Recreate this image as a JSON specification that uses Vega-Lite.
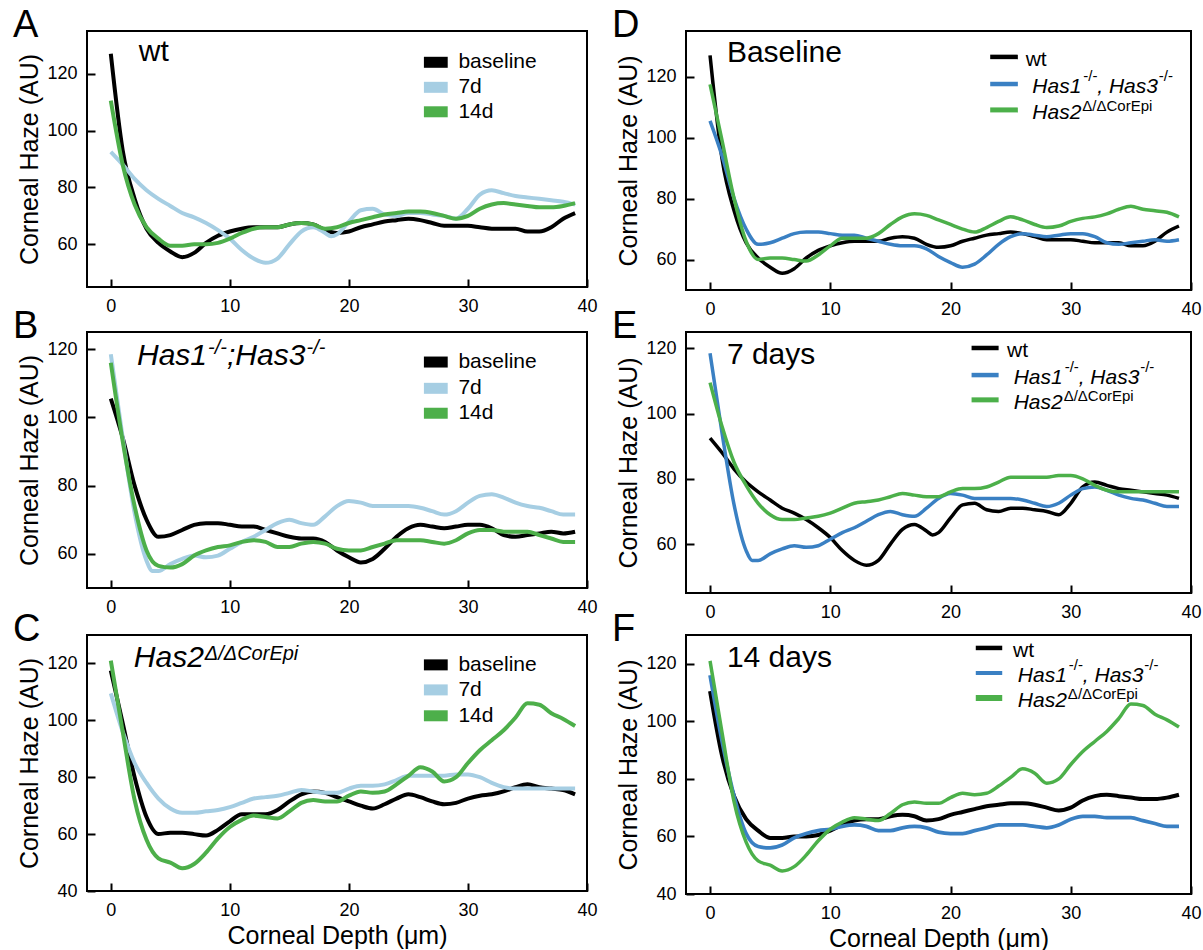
{
"$schema": "https://vega.github.io/schema/vega-lite/v6.json",
"padding": {"left": 12, "top": 6, "right": 2, "bottom": 2},
"background": "white",
"config": {
 "view": {"stroke": "#000", "strokeWidth": 2},
 "axis": {"domain": false, "grid": false, "tickSize": -8, "tickWidth": 2, "tickColor": "#000", "labelFont": "Liberation Sans", "labelFontSize": 18, "labelColor": "#000", "labelPadding": 18, "labelFlush": false, "labelOverlap": false, "titleFont": "Liberation Sans", "titleFontSize": 25, "titleFontWeight": "normal", "titleColor": "#000", "titlePadding": 4},
 "title": {"font": "Liberation Sans", "fontSize": 38, "fontWeight": "normal", "anchor": "start", "frame": "group", "dx": -74, "offset": -14, "baseline": "alphabetic", "color": "#000"},
 "style": {
  "ttl": {"font": "Liberation Sans", "fontSize": 30, "align": "left", "baseline": "alphabetic"},
  "ttli": {"font": "Liberation Sans", "fontSize": 30, "fontStyle": "italic", "align": "left", "baseline": "alphabetic"},
  "ttls": {"font": "Liberation Sans", "fontSize": 20, "fontStyle": "italic", "align": "left", "baseline": "alphabetic"},
  "lga": {"font": "Liberation Sans", "fontSize": 21, "align": "left", "baseline": "middle"},
  "lgr": {"font": "Liberation Sans", "fontSize": 21, "align": "left", "baseline": "alphabetic"},
  "lgi": {"font": "Liberation Sans", "fontSize": 21, "fontStyle": "italic", "align": "left", "baseline": "alphabetic"},
  "lgs": {"font": "Liberation Sans", "fontSize": 15, "align": "left", "baseline": "alphabetic"}
 }
},
"datasets": {"haze": [
{"geno":"wt","time":"baseline","depth":0,"haze":127},{"geno":"wt","time":"baseline","depth":1,"haze":93},{"geno":"wt","time":"baseline","depth":2,"haze":76},{"geno":"wt","time":"baseline","depth":3,"haze":65.5},{"geno":"wt","time":"baseline","depth":4,"haze":60.5},{"geno":"wt","time":"baseline","depth":5,"haze":57.5},{"geno":"wt","time":"baseline","depth":6,"haze":55.5},{"geno":"wt","time":"baseline","depth":7,"haze":57},{"geno":"wt","time":"baseline","depth":8,"haze":60.5},{"geno":"wt","time":"baseline","depth":9,"haze":63},{"geno":"wt","time":"baseline","depth":10,"haze":64.5},{"geno":"wt","time":"baseline","depth":11,"haze":65.5},{"geno":"wt","time":"baseline","depth":12,"haze":66},{"geno":"wt","time":"baseline","depth":13,"haze":66},{"geno":"wt","time":"baseline","depth":14,"haze":66},{"geno":"wt","time":"baseline","depth":15,"haze":67},{"geno":"wt","time":"baseline","depth":16,"haze":67.5},{"geno":"wt","time":"baseline","depth":17,"haze":67},{"geno":"wt","time":"baseline","depth":18,"haze":65},{"geno":"wt","time":"baseline","depth":19,"haze":64},{"geno":"wt","time":"baseline","depth":20,"haze":64.5},{"geno":"wt","time":"baseline","depth":21,"haze":66},{"geno":"wt","time":"baseline","depth":22,"haze":67},{"geno":"wt","time":"baseline","depth":23,"haze":68},{"geno":"wt","time":"baseline","depth":24,"haze":68.5},{"geno":"wt","time":"baseline","depth":25,"haze":69},{"geno":"wt","time":"baseline","depth":26,"haze":68.5},{"geno":"wt","time":"baseline","depth":27,"haze":67.5},{"geno":"wt","time":"baseline","depth":28,"haze":66.5},{"geno":"wt","time":"baseline","depth":29,"haze":66.5},{"geno":"wt","time":"baseline","depth":30,"haze":66.5},{"geno":"wt","time":"baseline","depth":31,"haze":66},{"geno":"wt","time":"baseline","depth":32,"haze":65.5},{"geno":"wt","time":"baseline","depth":33,"haze":65.5},{"geno":"wt","time":"baseline","depth":34,"haze":65.5},{"geno":"wt","time":"baseline","depth":35,"haze":64.5},{"geno":"wt","time":"baseline","depth":36,"haze":64.5},{"geno":"wt","time":"baseline","depth":37,"haze":66},{"geno":"wt","time":"baseline","depth":38,"haze":69},{"geno":"wt","time":"baseline","depth":39,"haze":71},
{"geno":"wt","time":"7d","depth":0,"haze":92.5},{"geno":"wt","time":"7d","depth":1,"haze":88},{"geno":"wt","time":"7d","depth":2,"haze":83},{"geno":"wt","time":"7d","depth":3,"haze":79},{"geno":"wt","time":"7d","depth":4,"haze":76},{"geno":"wt","time":"7d","depth":5,"haze":73.5},{"geno":"wt","time":"7d","depth":6,"haze":71},{"geno":"wt","time":"7d","depth":7,"haze":69.5},{"geno":"wt","time":"7d","depth":8,"haze":67.5},{"geno":"wt","time":"7d","depth":9,"haze":65},{"geno":"wt","time":"7d","depth":10,"haze":62},{"geno":"wt","time":"7d","depth":11,"haze":58},{"geno":"wt","time":"7d","depth":12,"haze":55},{"geno":"wt","time":"7d","depth":13,"haze":53.5},{"geno":"wt","time":"7d","depth":14,"haze":55},{"geno":"wt","time":"7d","depth":15,"haze":60},{"geno":"wt","time":"7d","depth":16,"haze":64.5},{"geno":"wt","time":"7d","depth":17,"haze":66},{"geno":"wt","time":"7d","depth":18,"haze":64},{"geno":"wt","time":"7d","depth":18.5,"haze":62.8},{"geno":"wt","time":"7d","depth":19,"haze":63.5},{"geno":"wt","time":"7d","depth":20,"haze":68},{"geno":"wt","time":"7d","depth":21,"haze":72},{"geno":"wt","time":"7d","depth":22,"haze":72.5},{"geno":"wt","time":"7d","depth":23,"haze":70.5},{"geno":"wt","time":"7d","depth":24,"haze":70},{"geno":"wt","time":"7d","depth":25,"haze":71},{"geno":"wt","time":"7d","depth":26,"haze":71},{"geno":"wt","time":"7d","depth":27,"haze":70.5},{"geno":"wt","time":"7d","depth":28,"haze":70},{"geno":"wt","time":"7d","depth":29,"haze":69},{"geno":"wt","time":"7d","depth":30,"haze":72.5},{"geno":"wt","time":"7d","depth":31,"haze":77.5},{"geno":"wt","time":"7d","depth":32,"haze":79},{"geno":"wt","time":"7d","depth":33,"haze":78},{"geno":"wt","time":"7d","depth":34,"haze":77},{"geno":"wt","time":"7d","depth":35,"haze":76.5},{"geno":"wt","time":"7d","depth":36,"haze":76},{"geno":"wt","time":"7d","depth":37,"haze":75.5},{"geno":"wt","time":"7d","depth":38,"haze":75},{"geno":"wt","time":"7d","depth":39,"haze":74},
{"geno":"wt","time":"14d","depth":0,"haze":110.5},{"geno":"wt","time":"14d","depth":1,"haze":88},{"geno":"wt","time":"14d","depth":2,"haze":74},{"geno":"wt","time":"14d","depth":3,"haze":66},{"geno":"wt","time":"14d","depth":4,"haze":62},{"geno":"wt","time":"14d","depth":5,"haze":59.5},{"geno":"wt","time":"14d","depth":6,"haze":59.5},{"geno":"wt","time":"14d","depth":7,"haze":60},{"geno":"wt","time":"14d","depth":8,"haze":60},{"geno":"wt","time":"14d","depth":9,"haze":60.5},{"geno":"wt","time":"14d","depth":10,"haze":62},{"geno":"wt","time":"14d","depth":11,"haze":64},{"geno":"wt","time":"14d","depth":12,"haze":65.5},{"geno":"wt","time":"14d","depth":13,"haze":66},{"geno":"wt","time":"14d","depth":14,"haze":66},{"geno":"wt","time":"14d","depth":15,"haze":67},{"geno":"wt","time":"14d","depth":16,"haze":67.5},{"geno":"wt","time":"14d","depth":17,"haze":67},{"geno":"wt","time":"14d","depth":18,"haze":65.5},{"geno":"wt","time":"14d","depth":19,"haze":66},{"geno":"wt","time":"14d","depth":20,"haze":67.5},{"geno":"wt","time":"14d","depth":21,"haze":68.5},{"geno":"wt","time":"14d","depth":22,"haze":69.5},{"geno":"wt","time":"14d","depth":23,"haze":70.5},{"geno":"wt","time":"14d","depth":24,"haze":71},{"geno":"wt","time":"14d","depth":25,"haze":71.5},{"geno":"wt","time":"14d","depth":26,"haze":71.5},{"geno":"wt","time":"14d","depth":27,"haze":71},{"geno":"wt","time":"14d","depth":28,"haze":70},{"geno":"wt","time":"14d","depth":29,"haze":69},{"geno":"wt","time":"14d","depth":30,"haze":70},{"geno":"wt","time":"14d","depth":31,"haze":72.5},{"geno":"wt","time":"14d","depth":32,"haze":74},{"geno":"wt","time":"14d","depth":33,"haze":74.5},{"geno":"wt","time":"14d","depth":34,"haze":74},{"geno":"wt","time":"14d","depth":35,"haze":73.5},{"geno":"wt","time":"14d","depth":36,"haze":73},{"geno":"wt","time":"14d","depth":37,"haze":73},{"geno":"wt","time":"14d","depth":38,"haze":73.5},{"geno":"wt","time":"14d","depth":39,"haze":74.5},
{"geno":"Has1/Has3","time":"baseline","depth":0,"haze":105.5},{"geno":"Has1/Has3","time":"baseline","depth":1,"haze":94},{"geno":"Has1/Has3","time":"baseline","depth":2,"haze":80},{"geno":"Has1/Has3","time":"baseline","depth":3,"haze":70},{"geno":"Has1/Has3","time":"baseline","depth":4,"haze":65},{"geno":"Has1/Has3","time":"baseline","depth":5,"haze":65.5},{"geno":"Has1/Has3","time":"baseline","depth":6,"haze":67},{"geno":"Has1/Has3","time":"baseline","depth":7,"haze":68.5},{"geno":"Has1/Has3","time":"baseline","depth":8,"haze":69},{"geno":"Has1/Has3","time":"baseline","depth":9,"haze":69},{"geno":"Has1/Has3","time":"baseline","depth":10,"haze":68.5},{"geno":"Has1/Has3","time":"baseline","depth":11,"haze":68},{"geno":"Has1/Has3","time":"baseline","depth":12,"haze":68},{"geno":"Has1/Has3","time":"baseline","depth":13,"haze":67},{"geno":"Has1/Has3","time":"baseline","depth":14,"haze":66},{"geno":"Has1/Has3","time":"baseline","depth":15,"haze":65},{"geno":"Has1/Has3","time":"baseline","depth":16,"haze":64.5},{"geno":"Has1/Has3","time":"baseline","depth":17,"haze":64.5},{"geno":"Has1/Has3","time":"baseline","depth":18,"haze":63.5},{"geno":"Has1/Has3","time":"baseline","depth":19,"haze":61},{"geno":"Has1/Has3","time":"baseline","depth":20,"haze":59},{"geno":"Has1/Has3","time":"baseline","depth":21,"haze":57.5},{"geno":"Has1/Has3","time":"baseline","depth":22,"haze":58.5},{"geno":"Has1/Has3","time":"baseline","depth":23,"haze":61.5},{"geno":"Has1/Has3","time":"baseline","depth":24,"haze":65},{"geno":"Has1/Has3","time":"baseline","depth":25,"haze":67.5},{"geno":"Has1/Has3","time":"baseline","depth":26,"haze":68.5},{"geno":"Has1/Has3","time":"baseline","depth":27,"haze":68},{"geno":"Has1/Has3","time":"baseline","depth":28,"haze":67.5},{"geno":"Has1/Has3","time":"baseline","depth":29,"haze":68},{"geno":"Has1/Has3","time":"baseline","depth":30,"haze":68.5},{"geno":"Has1/Has3","time":"baseline","depth":31,"haze":68.5},{"geno":"Has1/Has3","time":"baseline","depth":32,"haze":67.5},{"geno":"Has1/Has3","time":"baseline","depth":33,"haze":65.5},{"geno":"Has1/Has3","time":"baseline","depth":34,"haze":65},{"geno":"Has1/Has3","time":"baseline","depth":35,"haze":65.5},{"geno":"Has1/Has3","time":"baseline","depth":36,"haze":66},{"geno":"Has1/Has3","time":"baseline","depth":37,"haze":66.5},{"geno":"Has1/Has3","time":"baseline","depth":38,"haze":66},{"geno":"Has1/Has3","time":"baseline","depth":39,"haze":66.5},
{"geno":"Has1/Has3","time":"7d","depth":0,"haze":118.5},{"geno":"Has1/Has3","time":"7d","depth":1,"haze":94},{"geno":"Has1/Has3","time":"7d","depth":2,"haze":72},{"geno":"Has1/Has3","time":"7d","depth":3,"haze":58},{"geno":"Has1/Has3","time":"7d","depth":3.5,"haze":55},{"geno":"Has1/Has3","time":"7d","depth":4,"haze":55},{"geno":"Has1/Has3","time":"7d","depth":5,"haze":57},{"geno":"Has1/Has3","time":"7d","depth":6,"haze":58.5},{"geno":"Has1/Has3","time":"7d","depth":7,"haze":59.5},{"geno":"Has1/Has3","time":"7d","depth":8,"haze":59},{"geno":"Has1/Has3","time":"7d","depth":9,"haze":59.5},{"geno":"Has1/Has3","time":"7d","depth":10,"haze":61.5},{"geno":"Has1/Has3","time":"7d","depth":11,"haze":63.5},{"geno":"Has1/Has3","time":"7d","depth":12,"haze":65},{"geno":"Has1/Has3","time":"7d","depth":13,"haze":67},{"geno":"Has1/Has3","time":"7d","depth":14,"haze":69},{"geno":"Has1/Has3","time":"7d","depth":15,"haze":70},{"geno":"Has1/Has3","time":"7d","depth":16,"haze":69},{"geno":"Has1/Has3","time":"7d","depth":17,"haze":68.5},{"geno":"Has1/Has3","time":"7d","depth":18,"haze":71},{"geno":"Has1/Has3","time":"7d","depth":19,"haze":74},{"geno":"Has1/Has3","time":"7d","depth":20,"haze":75.5},{"geno":"Has1/Has3","time":"7d","depth":21,"haze":75},{"geno":"Has1/Has3","time":"7d","depth":22,"haze":74},{"geno":"Has1/Has3","time":"7d","depth":23,"haze":74},{"geno":"Has1/Has3","time":"7d","depth":24,"haze":74},{"geno":"Has1/Has3","time":"7d","depth":25,"haze":74},{"geno":"Has1/Has3","time":"7d","depth":26,"haze":73.5},{"geno":"Has1/Has3","time":"7d","depth":27,"haze":72.5},{"geno":"Has1/Has3","time":"7d","depth":28,"haze":71.5},{"geno":"Has1/Has3","time":"7d","depth":29,"haze":72.5},{"geno":"Has1/Has3","time":"7d","depth":30,"haze":75},{"geno":"Has1/Has3","time":"7d","depth":31,"haze":77},{"geno":"Has1/Has3","time":"7d","depth":32,"haze":77.5},{"geno":"Has1/Has3","time":"7d","depth":33,"haze":76.5},{"geno":"Has1/Has3","time":"7d","depth":34,"haze":75},{"geno":"Has1/Has3","time":"7d","depth":35,"haze":74},{"geno":"Has1/Has3","time":"7d","depth":36,"haze":73.5},{"geno":"Has1/Has3","time":"7d","depth":37,"haze":72.5},{"geno":"Has1/Has3","time":"7d","depth":38,"haze":71.5},{"geno":"Has1/Has3","time":"7d","depth":39,"haze":71.5},
{"geno":"Has1/Has3","time":"14d","depth":0,"haze":116},{"geno":"Has1/Has3","time":"14d","depth":1,"haze":93},{"geno":"Has1/Has3","time":"14d","depth":2,"haze":74},{"geno":"Has1/Has3","time":"14d","depth":3,"haze":61},{"geno":"Has1/Has3","time":"14d","depth":4,"haze":56.5},{"geno":"Has1/Has3","time":"14d","depth":5,"haze":56},{"geno":"Has1/Has3","time":"14d","depth":6,"haze":57},{"geno":"Has1/Has3","time":"14d","depth":7,"haze":59.5},{"geno":"Has1/Has3","time":"14d","depth":8,"haze":61},{"geno":"Has1/Has3","time":"14d","depth":9,"haze":62},{"geno":"Has1/Has3","time":"14d","depth":10,"haze":62.5},{"geno":"Has1/Has3","time":"14d","depth":11,"haze":63.5},{"geno":"Has1/Has3","time":"14d","depth":12,"haze":64},{"geno":"Has1/Has3","time":"14d","depth":13,"haze":63.5},{"geno":"Has1/Has3","time":"14d","depth":14,"haze":62},{"geno":"Has1/Has3","time":"14d","depth":15,"haze":62},{"geno":"Has1/Has3","time":"14d","depth":16,"haze":63},{"geno":"Has1/Has3","time":"14d","depth":17,"haze":63.5},{"geno":"Has1/Has3","time":"14d","depth":18,"haze":63},{"geno":"Has1/Has3","time":"14d","depth":19,"haze":61.5},{"geno":"Has1/Has3","time":"14d","depth":20,"haze":61},{"geno":"Has1/Has3","time":"14d","depth":21,"haze":61},{"geno":"Has1/Has3","time":"14d","depth":22,"haze":62},{"geno":"Has1/Has3","time":"14d","depth":23,"haze":63},{"geno":"Has1/Has3","time":"14d","depth":24,"haze":64},{"geno":"Has1/Has3","time":"14d","depth":25,"haze":64},{"geno":"Has1/Has3","time":"14d","depth":26,"haze":64},{"geno":"Has1/Has3","time":"14d","depth":27,"haze":63.5},{"geno":"Has1/Has3","time":"14d","depth":28,"haze":63},{"geno":"Has1/Has3","time":"14d","depth":29,"haze":64},{"geno":"Has1/Has3","time":"14d","depth":30,"haze":66},{"geno":"Has1/Has3","time":"14d","depth":31,"haze":67},{"geno":"Has1/Has3","time":"14d","depth":32,"haze":67},{"geno":"Has1/Has3","time":"14d","depth":33,"haze":66.5},{"geno":"Has1/Has3","time":"14d","depth":34,"haze":66.5},{"geno":"Has1/Has3","time":"14d","depth":35,"haze":66.5},{"geno":"Has1/Has3","time":"14d","depth":36,"haze":65.5},{"geno":"Has1/Has3","time":"14d","depth":37,"haze":64.5},{"geno":"Has1/Has3","time":"14d","depth":38,"haze":63.5},{"geno":"Has1/Has3","time":"14d","depth":39,"haze":63.5},
{"geno":"Has2","time":"baseline","depth":0,"haze":117.5},{"geno":"Has2","time":"baseline","depth":1,"haze":99},{"geno":"Has2","time":"baseline","depth":2,"haze":80},{"geno":"Has2","time":"baseline","depth":3,"haze":66},{"geno":"Has2","time":"baseline","depth":4,"haze":60},{"geno":"Has2","time":"baseline","depth":5,"haze":60.5},{"geno":"Has2","time":"baseline","depth":6,"haze":60.5},{"geno":"Has2","time":"baseline","depth":7,"haze":60},{"geno":"Has2","time":"baseline","depth":8,"haze":59.5},{"geno":"Has2","time":"baseline","depth":9,"haze":61.5},{"geno":"Has2","time":"baseline","depth":10,"haze":64.5},{"geno":"Has2","time":"baseline","depth":11,"haze":67},{"geno":"Has2","time":"baseline","depth":12,"haze":67},{"geno":"Has2","time":"baseline","depth":13,"haze":67},{"geno":"Has2","time":"baseline","depth":14,"haze":68.5},{"geno":"Has2","time":"baseline","depth":15,"haze":71.5},{"geno":"Has2","time":"baseline","depth":16,"haze":74},{"geno":"Has2","time":"baseline","depth":17,"haze":75},{"geno":"Has2","time":"baseline","depth":18,"haze":74.5},{"geno":"Has2","time":"baseline","depth":19,"haze":73},{"geno":"Has2","time":"baseline","depth":20,"haze":71.5},{"geno":"Has2","time":"baseline","depth":21,"haze":70},{"geno":"Has2","time":"baseline","depth":22,"haze":69},{"geno":"Has2","time":"baseline","depth":23,"haze":70.5},{"geno":"Has2","time":"baseline","depth":24,"haze":72.5},{"geno":"Has2","time":"baseline","depth":25,"haze":74},{"geno":"Has2","time":"baseline","depth":26,"haze":73},{"geno":"Has2","time":"baseline","depth":27,"haze":71.5},{"geno":"Has2","time":"baseline","depth":28,"haze":70.5},{"geno":"Has2","time":"baseline","depth":29,"haze":71},{"geno":"Has2","time":"baseline","depth":30,"haze":72.5},{"geno":"Has2","time":"baseline","depth":31,"haze":73.5},{"geno":"Has2","time":"baseline","depth":32,"haze":74},{"geno":"Has2","time":"baseline","depth":33,"haze":75},{"geno":"Has2","time":"baseline","depth":34,"haze":76.5},{"geno":"Has2","time":"baseline","depth":35,"haze":77.5},{"geno":"Has2","time":"baseline","depth":36,"haze":76.5},{"geno":"Has2","time":"baseline","depth":37,"haze":76},{"geno":"Has2","time":"baseline","depth":38,"haze":75.5},{"geno":"Has2","time":"baseline","depth":39,"haze":74},
{"geno":"Has2","time":"7d","depth":0,"haze":109.5},{"geno":"Has2","time":"7d","depth":1,"haze":96},{"geno":"Has2","time":"7d","depth":2,"haze":85},{"geno":"Has2","time":"7d","depth":3,"haze":78},{"geno":"Has2","time":"7d","depth":4,"haze":72.5},{"geno":"Has2","time":"7d","depth":5,"haze":69},{"geno":"Has2","time":"7d","depth":6,"haze":67.5},{"geno":"Has2","time":"7d","depth":7,"haze":67.5},{"geno":"Has2","time":"7d","depth":8,"haze":68},{"geno":"Has2","time":"7d","depth":9,"haze":68.5},{"geno":"Has2","time":"7d","depth":10,"haze":69.5},{"geno":"Has2","time":"7d","depth":11,"haze":71},{"geno":"Has2","time":"7d","depth":12,"haze":72.5},{"geno":"Has2","time":"7d","depth":13,"haze":73},{"geno":"Has2","time":"7d","depth":14,"haze":73.5},{"geno":"Has2","time":"7d","depth":15,"haze":74.5},{"geno":"Has2","time":"7d","depth":16,"haze":75.5},{"geno":"Has2","time":"7d","depth":17,"haze":75},{"geno":"Has2","time":"7d","depth":18,"haze":74.5},{"geno":"Has2","time":"7d","depth":19,"haze":74.5},{"geno":"Has2","time":"7d","depth":20,"haze":76},{"geno":"Has2","time":"7d","depth":21,"haze":77},{"geno":"Has2","time":"7d","depth":22,"haze":77},{"geno":"Has2","time":"7d","depth":23,"haze":77.5},{"geno":"Has2","time":"7d","depth":24,"haze":79},{"geno":"Has2","time":"7d","depth":25,"haze":80.5},{"geno":"Has2","time":"7d","depth":26,"haze":80.5},{"geno":"Has2","time":"7d","depth":27,"haze":80.5},{"geno":"Has2","time":"7d","depth":28,"haze":80.5},{"geno":"Has2","time":"7d","depth":29,"haze":81},{"geno":"Has2","time":"7d","depth":30,"haze":81},{"geno":"Has2","time":"7d","depth":31,"haze":80},{"geno":"Has2","time":"7d","depth":32,"haze":78},{"geno":"Has2","time":"7d","depth":33,"haze":76.5},{"geno":"Has2","time":"7d","depth":34,"haze":76},{"geno":"Has2","time":"7d","depth":35,"haze":76},{"geno":"Has2","time":"7d","depth":36,"haze":76},{"geno":"Has2","time":"7d","depth":37,"haze":76},{"geno":"Has2","time":"7d","depth":38,"haze":76},{"geno":"Has2","time":"7d","depth":39,"haze":76},
{"geno":"Has2","time":"14d","depth":0,"haze":121},{"geno":"Has2","time":"14d","depth":1,"haze":96},{"geno":"Has2","time":"14d","depth":2,"haze":72},{"geno":"Has2","time":"14d","depth":3,"haze":58},{"geno":"Has2","time":"14d","depth":4,"haze":51.5},{"geno":"Has2","time":"14d","depth":5,"haze":50},{"geno":"Has2","time":"14d","depth":6,"haze":48},{"geno":"Has2","time":"14d","depth":7,"haze":49.5},{"geno":"Has2","time":"14d","depth":8,"haze":53.5},{"geno":"Has2","time":"14d","depth":9,"haze":58.5},{"geno":"Has2","time":"14d","depth":10,"haze":62.5},{"geno":"Has2","time":"14d","depth":11,"haze":65},{"geno":"Has2","time":"14d","depth":12,"haze":66.5},{"geno":"Has2","time":"14d","depth":13,"haze":66},{"geno":"Has2","time":"14d","depth":14,"haze":65.5},{"geno":"Has2","time":"14d","depth":15,"haze":68},{"geno":"Has2","time":"14d","depth":16,"haze":71},{"geno":"Has2","time":"14d","depth":17,"haze":72},{"geno":"Has2","time":"14d","depth":18,"haze":71.5},{"geno":"Has2","time":"14d","depth":19,"haze":71.5},{"geno":"Has2","time":"14d","depth":20,"haze":73.5},{"geno":"Has2","time":"14d","depth":21,"haze":75},{"geno":"Has2","time":"14d","depth":22,"haze":74.5},{"geno":"Has2","time":"14d","depth":23,"haze":75},{"geno":"Has2","time":"14d","depth":24,"haze":77.5},{"geno":"Has2","time":"14d","depth":25,"haze":80.5},{"geno":"Has2","time":"14d","depth":26,"haze":83.5},{"geno":"Has2","time":"14d","depth":27,"haze":82},{"geno":"Has2","time":"14d","depth":28,"haze":78.5},{"geno":"Has2","time":"14d","depth":29,"haze":80},{"geno":"Has2","time":"14d","depth":30,"haze":85},{"geno":"Has2","time":"14d","depth":31,"haze":89.5},{"geno":"Has2","time":"14d","depth":32,"haze":93},{"geno":"Has2","time":"14d","depth":33,"haze":96.5},{"geno":"Has2","time":"14d","depth":34,"haze":101},{"geno":"Has2","time":"14d","depth":35,"haze":106},{"geno":"Has2","time":"14d","depth":36,"haze":105.5},{"geno":"Has2","time":"14d","depth":37,"haze":102.5},{"geno":"Has2","time":"14d","depth":38,"haze":100.5},{"geno":"Has2","time":"14d","depth":39,"haze":98}
]},
"columns": 2,
"spacing": {"row": 42, "column": 99},
"bounds": "flush",
"resolve": {"scale": {"color": "independent", "strokeWidth": "independent", "x": "independent", "y": "independent"}},
"concat": [
  {"width": 500, "height": 256, "title": {"text": "A"},
   "layer": [
    {"data": {"name": "haze"}, "transform": [{"filter": "datum.geno === 'wt'"}],
     "mark": {"type": "line", "interpolate": "monotone", "strokeWidth": 4},
     "encoding": {
      "x": {"field": "depth", "type": "quantitative", "scale": {"domain": [-2, 40], "nice": false, "zero": false}, "axis": {"values": [0, 10, 20, 30, 40], "title": null}},
      "y": {"field": "haze", "type": "quantitative", "scale": {"domain": [45, 135], "nice": false, "zero": false}, "axis": {"values": [60, 80, 100, 120], "title": "Corneal Haze (AU)"}},
      "color": {"field": "time", "type": "nominal", "scale": {"domain": ["baseline", "7d", "14d"], "range": ["#000000", "#a6cee3", "#4daf4a"]}, "legend": null}}},
    {"data": {"values": [{}]}, "mark": {"type": "text", "text": "wt", "style": "ttl"}, "encoding": {"x": {"datum": 2.35}, "y": {"datum": 124.4}}},
    {"data": {"values": [{}]}, "mark": {"type": "rule", "strokeWidth": 11, "color": "#000000"}, "encoding": {"x": {"datum": 26.3}, "x2": {"datum": 28.3}, "y": {"datum": 124}}},
    {"data": {"values": [{}]}, "mark": {"type": "rule", "strokeWidth": 11, "color": "#a6cee3"}, "encoding": {"x": {"datum": 26.3}, "x2": {"datum": 28.3}, "y": {"datum": 115.2}}},
    {"data": {"values": [{}]}, "mark": {"type": "rule", "strokeWidth": 11, "color": "#4daf4a"}, "encoding": {"x": {"datum": 26.3}, "x2": {"datum": 28.3}, "y": {"datum": 106.6}}},
    {"data": {"values": [{}]}, "mark": {"type": "text", "text": "baseline", "style": "lga"}, "encoding": {"x": {"datum": 29.2}, "y": {"datum": 124}}},
    {"data": {"values": [{}]}, "mark": {"type": "text", "text": "7d", "style": "lga"}, "encoding": {"x": {"datum": 29.2}, "y": {"datum": 115.2}}},
    {"data": {"values": [{}]}, "mark": {"type": "text", "text": "14d", "style": "lga"}, "encoding": {"x": {"datum": 29.2}, "y": {"datum": 106.6}}}
   ]},
  {"width": 505, "height": 259, "title": {"text": "D"},
   "layer": [
    {"data": {"name": "haze"}, "transform": [{"filter": "datum.time === 'baseline'"}],
     "mark": {"type": "line", "interpolate": "monotone", "strokeWidth": 3.5},
     "encoding": {
      "x": {"field": "depth", "type": "quantitative", "scale": {"domain": [-2, 40], "nice": false, "zero": false}, "axis": {"values": [0, 10, 20, 30, 40], "title": null}},
      "y": {"field": "haze", "type": "quantitative", "scale": {"domain": [50, 135], "nice": false, "zero": false}, "axis": {"values": [60, 80, 100, 120], "title": "Corneal Haze (AU)"}},
      "color": {"field": "geno", "type": "nominal", "scale": {"domain": ["wt", "Has1/Has3", "Has2"], "range": ["#000000", "#3a80c3", "#4cb04a"]}, "legend": null}}},
    {"data": {"values": [{}]}, "mark": {"type": "text", "text": "Baseline", "style": "ttl"}, "encoding": {"x": {"datum": 1.4}, "y": {"datum": 124.8}}},
    {"data": {"values": [{}]}, "mark": {"type": "rule", "strokeWidth": 4.5, "color": "#000000"}, "encoding": {"x": {"datum": 23.3}, "x2": {"datum": 25.6}, "y": {"datum": 126.5}}},
    {"data": {"values": [{}]}, "mark": {"type": "rule", "strokeWidth": 4.5, "color": "#3a80c3"}, "encoding": {"x": {"datum": 23.3}, "x2": {"datum": 25.6}, "y": {"datum": 117.6}}},
    {"data": {"values": [{}]}, "mark": {"type": "rule", "strokeWidth": 5, "color": "#4cb04a"}, "encoding": {"x": {"datum": 23.3}, "x2": {"datum": 25.6}, "y": {"datum": 109.1}}},
    {"data": {"values": [{}]}, "mark": {"type": "text", "text": "wt", "style": "lgr", "dy": 9}, "encoding": {"x": {"datum": 26.25}, "y": {"datum": 126.5}}},
    {"data": {"values": [{}]}, "mark": {"type": "text", "text": "Has1", "style": "lgi", "dy": 9}, "encoding": {"x": {"datum": 26.8}, "y": {"datum": 117.6}}},
    {"data": {"values": [{}]}, "mark": {"type": "text", "text": "-/-", "style": "lgs", "dx": 51, "dy": -3}, "encoding": {"x": {"datum": 26.8}, "y": {"datum": 117.6}}},
    {"data": {"values": [{}]}, "mark": {"type": "text", "text": ", Has3", "style": "lgi", "dx": 65, "dy": 9}, "encoding": {"x": {"datum": 26.8}, "y": {"datum": 117.6}}},
    {"data": {"values": [{}]}, "mark": {"type": "text", "text": "-/-", "style": "lgs", "dx": 126.5, "dy": -3}, "encoding": {"x": {"datum": 26.8}, "y": {"datum": 117.6}}},
    {"data": {"values": [{}]}, "mark": {"type": "text", "text": "Has2", "style": "lgi", "dy": 9}, "encoding": {"x": {"datum": 26.8}, "y": {"datum": 109.1}}},
    {"data": {"values": [{}]}, "mark": {"type": "text", "text": "Δ/ΔCorEpi", "style": "lgs", "dx": 50, "dy": 1}, "encoding": {"x": {"datum": 26.8}, "y": {"datum": 109.1}}}
   ]},
  {"width": 500, "height": 256, "title": {"text": "B"},
   "layer": [
    {"data": {"name": "haze"}, "transform": [{"filter": "datum.geno === 'Has1/Has3'"}],
     "mark": {"type": "line", "interpolate": "monotone", "strokeWidth": 4},
     "encoding": {
      "x": {"field": "depth", "type": "quantitative", "scale": {"domain": [-2, 40], "nice": false, "zero": false}, "axis": {"values": [0, 10, 20, 30, 40], "title": null}},
      "y": {"field": "haze", "type": "quantitative", "scale": {"domain": [50, 125], "nice": false, "zero": false}, "axis": {"values": [60, 80, 100, 120], "title": "Corneal Haze (AU)"}},
      "color": {"field": "time", "type": "nominal", "scale": {"domain": ["baseline", "7d", "14d"], "range": ["#000000", "#a6cee3", "#4daf4a"]}, "legend": null}}},
    {"data": {"values": [{}]}, "mark": {"type": "text", "text": "Has1", "style": "ttli"}, "encoding": {"x": {"datum": 2.2}, "y": {"datum": 115.3}}},
    {"data": {"values": [{}]}, "mark": {"type": "text", "text": "-/-", "style": "ttls", "dx": 71, "dy": -11}, "encoding": {"x": {"datum": 2.2}, "y": {"datum": 115.3}}},
    {"data": {"values": [{}]}, "mark": {"type": "text", "text": ";Has3", "style": "ttli", "dx": 90}, "encoding": {"x": {"datum": 2.2}, "y": {"datum": 115.3}}},
    {"data": {"values": [{}]}, "mark": {"type": "text", "text": "-/-", "style": "ttls", "dx": 169.5, "dy": -11}, "encoding": {"x": {"datum": 2.2}, "y": {"datum": 115.3}}},
    {"data": {"values": [{}]}, "mark": {"type": "rule", "strokeWidth": 11, "color": "#000000"}, "encoding": {"x": {"datum": 26.3}, "x2": {"datum": 28.3}, "y": {"datum": 116.2}}},
    {"data": {"values": [{}]}, "mark": {"type": "rule", "strokeWidth": 11, "color": "#a6cee3"}, "encoding": {"x": {"datum": 26.3}, "x2": {"datum": 28.3}, "y": {"datum": 108.5}}},
    {"data": {"values": [{}]}, "mark": {"type": "rule", "strokeWidth": 11, "color": "#4daf4a"}, "encoding": {"x": {"datum": 26.3}, "x2": {"datum": 28.3}, "y": {"datum": 101.2}}},
    {"data": {"values": [{}]}, "mark": {"type": "text", "text": "baseline", "style": "lga"}, "encoding": {"x": {"datum": 29.2}, "y": {"datum": 116.2}}},
    {"data": {"values": [{}]}, "mark": {"type": "text", "text": "7d", "style": "lga"}, "encoding": {"x": {"datum": 29.2}, "y": {"datum": 108.5}}},
    {"data": {"values": [{}]}, "mark": {"type": "text", "text": "14d", "style": "lga"}, "encoding": {"x": {"datum": 29.2}, "y": {"datum": 101.2}}}
   ]},
  {"width": 505, "height": 261, "title": {"text": "E"},
   "layer": [
    {"data": {"name": "haze"}, "transform": [{"filter": "datum.time === '7d'"}],
     "mark": {"type": "line", "interpolate": "monotone", "strokeWidth": 3.5},
     "encoding": {
      "x": {"field": "depth", "type": "quantitative", "scale": {"domain": [-2, 40], "nice": false, "zero": false}, "axis": {"values": [0, 10, 20, 30, 40], "title": null}},
      "y": {"field": "haze", "type": "quantitative", "scale": {"domain": [45, 125], "nice": false, "zero": false}, "axis": {"values": [60, 80, 100, 120], "title": "Corneal Haze (AU)"}},
      "color": {"field": "geno", "type": "nominal", "scale": {"domain": ["wt", "Has1/Has3", "Has2"], "range": ["#000000", "#3a80c3", "#4cb04a"]}, "legend": null}}},
    {"data": {"values": [{}]}, "mark": {"type": "text", "text": "7 days", "style": "ttl"}, "encoding": {"x": {"datum": 1.4}, "y": {"datum": 115.2}}},
    {"data": {"values": [{}]}, "mark": {"type": "rule", "strokeWidth": 4.5, "color": "#000000"}, "encoding": {"x": {"datum": 21.75}, "x2": {"datum": 24}, "y": {"datum": 120.1}}},
    {"data": {"values": [{}]}, "mark": {"type": "rule", "strokeWidth": 4.5, "color": "#3a80c3"}, "encoding": {"x": {"datum": 21.75}, "x2": {"datum": 24}, "y": {"datum": 111.8}}},
    {"data": {"values": [{}]}, "mark": {"type": "rule", "strokeWidth": 5, "color": "#4cb04a"}, "encoding": {"x": {"datum": 21.75}, "x2": {"datum": 24}, "y": {"datum": 104.2}}},
    {"data": {"values": [{}]}, "mark": {"type": "text", "text": "wt", "style": "lgr", "dy": 9}, "encoding": {"x": {"datum": 24.7}, "y": {"datum": 120.1}}},
    {"data": {"values": [{}]}, "mark": {"type": "text", "text": "Has1", "style": "lgi", "dy": 9}, "encoding": {"x": {"datum": 25.25}, "y": {"datum": 111.8}}},
    {"data": {"values": [{}]}, "mark": {"type": "text", "text": "-/-", "style": "lgs", "dx": 51, "dy": -3}, "encoding": {"x": {"datum": 25.25}, "y": {"datum": 111.8}}},
    {"data": {"values": [{}]}, "mark": {"type": "text", "text": ", Has3", "style": "lgi", "dx": 65, "dy": 9}, "encoding": {"x": {"datum": 25.25}, "y": {"datum": 111.8}}},
    {"data": {"values": [{}]}, "mark": {"type": "text", "text": "-/-", "style": "lgs", "dx": 126.5, "dy": -3}, "encoding": {"x": {"datum": 25.25}, "y": {"datum": 111.8}}},
    {"data": {"values": [{}]}, "mark": {"type": "text", "text": "Has2", "style": "lgi", "dy": 9}, "encoding": {"x": {"datum": 25.25}, "y": {"datum": 104.2}}},
    {"data": {"values": [{}]}, "mark": {"type": "text", "text": "Δ/ΔCorEpi", "style": "lgs", "dx": 50, "dy": 1}, "encoding": {"x": {"datum": 25.25}, "y": {"datum": 104.2}}}
   ]},
  {"width": 500, "height": 256, "title": {"text": "C"},
   "layer": [
    {"data": {"name": "haze"}, "transform": [{"filter": "datum.geno === 'Has2'"}],
     "mark": {"type": "line", "interpolate": "monotone", "strokeWidth": 4},
     "encoding": {
      "x": {"field": "depth", "type": "quantitative", "scale": {"domain": [-2, 40], "nice": false, "zero": false}, "axis": {"values": [0, 10, 20, 30, 40], "title": "Corneal Depth (μm)"}},
      "y": {"field": "haze", "type": "quantitative", "scale": {"domain": [40, 130], "nice": false, "zero": false}, "axis": {"values": [40, 60, 80, 100, 120], "title": "Corneal Haze (AU)"}},
      "color": {"field": "time", "type": "nominal", "scale": {"domain": ["baseline", "7d", "14d"], "range": ["#000000", "#a6cee3", "#4daf4a"]}, "legend": null}}},
    {"data": {"values": [{}]}, "mark": {"type": "text", "text": "Has2", "style": "ttli"}, "encoding": {"x": {"datum": 1.93}, "y": {"datum": 118.75}}},
    {"data": {"values": [{}]}, "mark": {"type": "text", "text": "Δ/ΔCorEpi", "style": "ttls", "dx": 71, "dy": -7}, "encoding": {"x": {"datum": 1.93}, "y": {"datum": 118.75}}},
    {"data": {"values": [{}]}, "mark": {"type": "rule", "strokeWidth": 11, "color": "#000000"}, "encoding": {"x": {"datum": 26.3}, "x2": {"datum": 28.3}, "y": {"datum": 119.5}}},
    {"data": {"values": [{}]}, "mark": {"type": "rule", "strokeWidth": 11, "color": "#a6cee3"}, "encoding": {"x": {"datum": 26.3}, "x2": {"datum": 28.3}, "y": {"datum": 110.7}}},
    {"data": {"values": [{}]}, "mark": {"type": "rule", "strokeWidth": 11, "color": "#4daf4a"}, "encoding": {"x": {"datum": 26.3}, "x2": {"datum": 28.3}, "y": {"datum": 101.6}}},
    {"data": {"values": [{}]}, "mark": {"type": "text", "text": "baseline", "style": "lga"}, "encoding": {"x": {"datum": 29.2}, "y": {"datum": 119.5}}},
    {"data": {"values": [{}]}, "mark": {"type": "text", "text": "7d", "style": "lga"}, "encoding": {"x": {"datum": 29.2}, "y": {"datum": 110.7}}},
    {"data": {"values": [{}]}, "mark": {"type": "text", "text": "14d", "style": "lga"}, "encoding": {"x": {"datum": 29.2}, "y": {"datum": 101.6}}}
   ]},
  {"width": 505, "height": 259, "title": {"text": "F"},
   "layer": [
    {"data": {"name": "haze"}, "transform": [{"filter": "datum.time === '14d'"}],
     "mark": {"type": "line", "interpolate": "monotone"},
     "encoding": {
      "x": {"field": "depth", "type": "quantitative", "scale": {"domain": [-2, 40], "nice": false, "zero": false}, "axis": {"values": [0, 10, 20, 30, 40], "title": "Corneal Depth (μm)"}},
      "y": {"field": "haze", "type": "quantitative", "scale": {"domain": [40, 130], "nice": false, "zero": false}, "axis": {"values": [40, 60, 80, 100, 120], "title": "Corneal Haze (AU)"}},
      "color": {"field": "geno", "type": "nominal", "scale": {"domain": ["wt", "Has1/Has3", "Has2"], "range": ["#000000", "#3a80c3", "#4cb04a"]}, "legend": null},
      "strokeWidth": {"field": "geno", "type": "nominal", "scale": {"domain": ["wt", "Has1/Has3", "Has2"], "range": [4, 3.5, 5.5]}, "legend": null}}},
    {"data": {"values": [{}]}, "mark": {"type": "text", "text": "14 days", "style": "ttl"}, "encoding": {"x": {"datum": 1.4}, "y": {"datum": 119}}},
    {"data": {"values": [{}]}, "mark": {"type": "rule", "strokeWidth": 4.5, "color": "#000000"}, "encoding": {"x": {"datum": 22.1}, "x2": {"datum": 24.3}, "y": {"datum": 125.5}}},
    {"data": {"values": [{}]}, "mark": {"type": "rule", "strokeWidth": 4, "color": "#3a80c3"}, "encoding": {"x": {"datum": 22.1}, "x2": {"datum": 24.3}, "y": {"datum": 116.8}}},
    {"data": {"values": [{}]}, "mark": {"type": "rule", "strokeWidth": 6, "color": "#4cb04a"}, "encoding": {"x": {"datum": 22.1}, "x2": {"datum": 24.3}, "y": {"datum": 108.1}}},
    {"data": {"values": [{}]}, "mark": {"type": "text", "text": "wt", "style": "lgr", "dy": 9}, "encoding": {"x": {"datum": 25.2}, "y": {"datum": 125.5}}},
    {"data": {"values": [{}]}, "mark": {"type": "text", "text": "Has1", "style": "lgi", "dy": 9}, "encoding": {"x": {"datum": 25.6}, "y": {"datum": 116.8}}},
    {"data": {"values": [{}]}, "mark": {"type": "text", "text": "-/-", "style": "lgs", "dx": 51, "dy": -3}, "encoding": {"x": {"datum": 25.6}, "y": {"datum": 116.8}}},
    {"data": {"values": [{}]}, "mark": {"type": "text", "text": ", Has3", "style": "lgi", "dx": 65, "dy": 9}, "encoding": {"x": {"datum": 25.6}, "y": {"datum": 116.8}}},
    {"data": {"values": [{}]}, "mark": {"type": "text", "text": "-/-", "style": "lgs", "dx": 126.5, "dy": -3}, "encoding": {"x": {"datum": 25.6}, "y": {"datum": 116.8}}},
    {"data": {"values": [{}]}, "mark": {"type": "text", "text": "Has2", "style": "lgi", "dy": 9}, "encoding": {"x": {"datum": 25.6}, "y": {"datum": 108.1}}},
    {"data": {"values": [{}]}, "mark": {"type": "text", "text": "Δ/ΔCorEpi", "style": "lgs", "dx": 50, "dy": 1}, "encoding": {"x": {"datum": 25.6}, "y": {"datum": 108.1}}}
   ]}
]
}
